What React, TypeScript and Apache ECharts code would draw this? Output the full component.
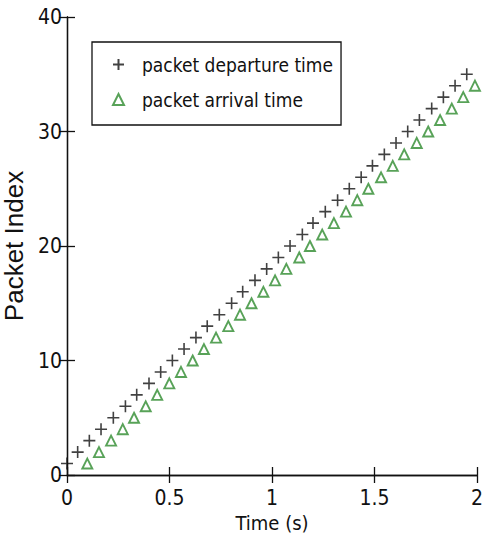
import React, { useEffect, useRef } from "react";
import * as echarts from "echarts";

const departureTime = [
  0, 0.052, 0.109, 0.166, 0.226, 0.285, 0.34, 0.4, 0.457, 0.514, 0.571, 0.629,
  0.684, 0.743, 0.803, 0.857, 0.917, 0.974, 1.031, 1.088, 1.148, 1.2, 1.26,
  1.32, 1.377, 1.435, 1.49, 1.548, 1.605, 1.662, 1.719, 1.779, 1.836, 1.893,
  1.95,
];
const departurePacket = [
  1, 2, 3, 4, 5, 6, 7, 8, 9, 10, 11, 12, 13, 14, 15, 16, 17, 18, 19, 20, 21,
  22, 23, 24, 25, 26, 27, 28, 29, 30, 31, 32, 33, 34, 35,
];
const arrivalTime = [
  0.099, 0.156, 0.215, 0.272, 0.327, 0.384, 0.44, 0.499, 0.556, 0.613, 0.668,
  0.727, 0.787, 0.844, 0.9, 0.958, 1.015, 1.07, 1.133, 1.185, 1.245, 1.302,
  1.361, 1.416, 1.47, 1.532, 1.589, 1.645, 1.706, 1.762, 1.82, 1.877, 1.933,
  1.99,
];
const arrivalPacket = [
  1, 2, 3, 4, 5, 6, 7, 8, 9, 10, 11, 12, 13, 14, 15, 16, 17, 18, 19, 20, 21,
  22, 23, 24, 25, 26, 27, 28, 29, 30, 31, 32, 33, 34,
];
const seriesNames = ["packet departure time", "packet arrival time"];
const xTicks = { min: 0, max: 2, interval: 0.5 };
const yTicks = { min: 0, max: 40, interval: 10 };

const FONT = "'DejaVu Sans Condensed', 'Liberation Sans', Arial, sans-serif";
const PLUS = "path://M5 0 L5 10 M0 5 L10 5";
const TRI = "path://M5 0 L10 10 L0 10 Z";

export default function App() {
  const ref = useRef<HTMLDivElement>(null);
  useEffect(() => {
    if (!ref.current) return;
    const chart = echarts.init(ref.current, undefined, { renderer: "svg" });
    const axisLine = { show: true, lineStyle: { color: "#111", width: 1.3 } };
    const tick = { show: true, inside: true, length: 8, lineStyle: { color: "#111", width: 1.3 } };
    chart.setOption({
      animation: false,
      backgroundColor: "#fff",
      grid: { left: 67, right: 6, top: 17, bottom: 69, containLabel: false, outerBoundsMode: "none" },
      legend: {
        orient: "vertical",
        left: 92,
        top: 42,
        padding: [13, 8, 16, 20],
        itemGap: 16,
        itemWidth: 11,
        itemHeight: 11,
        symbolKeepAspect: true,
        borderColor: "#111",
        borderWidth: 1.3,
        borderRadius: 0,
        backgroundColor: "#fff",
        textStyle: { fontFamily: FONT, fontSize: 19, color: "#111", padding: [0, 0, 0, 13] },
        data: [
          { name: seriesNames[0], icon: PLUS },
          { name: seriesNames[1], icon: TRI },
        ],
      },
      xAxis: [
        {
          type: "value",
          ...xTicks,
          position: "bottom",
          name: "Time (s)",
          nameLocation: "middle",
          nameGap: 37,
          nameTextStyle: { fontFamily: FONT, fontSize: 20, color: "#111" },
          axisLine,
          axisTick: tick,
          splitLine: { show: false },
          axisLabel: { fontFamily: FONT, fontSize: 21, color: "#111", margin: 12 },
        },
        {
          type: "value",
          ...xTicks,
          position: "top",
          axisLine,
          axisTick: tick,
          splitLine: { show: false },
          axisLabel: { show: false },
        },
      ],
      yAxis: [
        {
          type: "value",
          ...yTicks,
          position: "left",
          name: "Packet Index",
          nameLocation: "middle",
          nameGap: 27,
          nameRotate: 90,
          nameTextStyle: { fontFamily: "'Liberation Sans', Arial, sans-serif", fontSize: 26, color: "#111" },
          axisLine,
          axisTick: tick,
          splitLine: { show: false },
          axisLabel: { fontFamily: FONT, fontSize: 21, color: "#111", margin: 5 },
        },
        {
          type: "value",
          ...yTicks,
          position: "right",
          axisLine,
          axisTick: tick,
          splitLine: { show: false },
          axisLabel: { show: false },
        },
      ],
      series: [
        {
          name: seriesNames[0],
          type: "scatter",
          symbol: PLUS,
          symbolSize: 12,
          itemStyle: { color: "rgba(0,0,0,0)", borderColor: "#111", borderWidth: 1.6 },
          data: departureTime.map((t, i) => [t, departurePacket[i]]),
        },
        {
          name: seriesNames[1],
          type: "scatter",
          symbol: TRI,
          symbolSize: [10, 10],
          itemStyle: { color: "rgba(255,255,255,0)", borderColor: "#2e8b2e", borderWidth: 1.9 },
          data: arrivalTime.map((t, i) => [t, arrivalPacket[i]]),
        },
      ],
    });
    return () => chart.dispose();
  }, []);
  return <div ref={ref} style={{ width: 483, height: 544, position: "absolute", left: 0, top: 0 }} />;
}
